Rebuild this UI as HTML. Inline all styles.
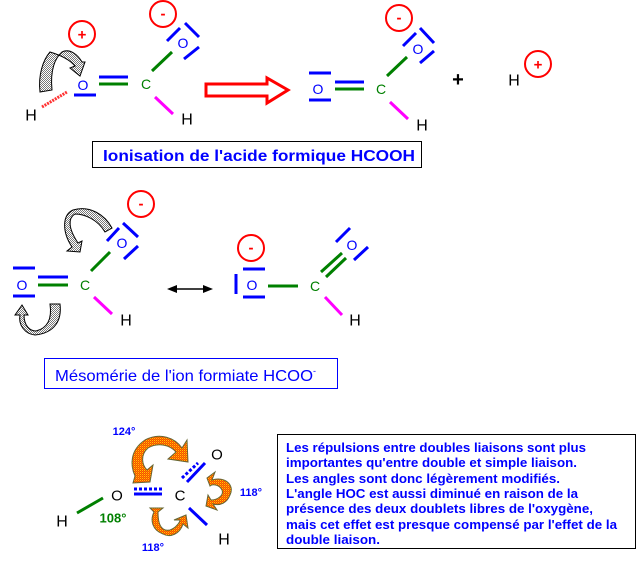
<!DOCTYPE html>
<html><head><meta charset="utf-8"><style>
html,body{margin:0;padding:0;background:#fff;}
svg{display:block;}
text{font-family:"Liberation Sans",Arial,sans-serif;}
</style></head><body>
<svg width="637" height="561" viewBox="0 0 637 561" xmlns="http://www.w3.org/2000/svg">
<defs>
<pattern id="gr" width="2" height="2" patternUnits="userSpaceOnUse"><rect width="2" height="2" fill="#fff"/><rect width="1" height="1" fill="#777"/><rect x="1" y="1" width="1" height="1" fill="#777"/></pattern>
<pattern id="or" width="2" height="2" patternUnits="userSpaceOnUse"><rect width="2" height="2" fill="#f40"/><rect width="1" height="1" fill="#fc0"/><rect x="1" y="1" width="1" height="1" fill="#e80"/></pattern>
</defs>
<g stroke-width="3" fill="none">
<circle cx="82" cy="34" r="13" stroke="red" stroke-width="2"/>
<circle cx="163" cy="14" r="13" stroke="red" stroke-width="2"/>
<line x1="74" y1="95" x2="96" y2="95" stroke="blue"/>
<line x1="99" y1="77" x2="128" y2="77" stroke="blue"/>
<line x1="99" y1="84" x2="128" y2="84" stroke="green"/>
<line x1="152" y1="71" x2="172" y2="52" stroke="green"/>
<line x1="167" y1="41" x2="180" y2="28" stroke="blue"/>
<line x1="185" y1="23" x2="199" y2="37" stroke="blue"/>
<line x1="184" y1="59" x2="199" y2="47" stroke="blue"/>
<line x1="155" y1="97" x2="173" y2="114" stroke="#f0f"/>
<line x1="42" y1="107" x2="67" y2="92" stroke="#f33" stroke-dasharray="2 1"/>
<path d="M40 92 L52 90 C50 70 55 58 62 52 C70 48 78 55 82 62 L85 62 L80 76 L70 68 L75 66 C70 60 60 55 50 52 C43 60 38 75 40 92 Z" fill="url(#gr)" stroke="#000" stroke-width="1"/>
<path d="M206 84 L267 84 L267 78 L288 90 L267 103 L267 96 L206 96 Z" stroke="red" stroke-width="3"/>
<circle cx="399" cy="18" r="13" stroke="red" stroke-width="2"/>
<line x1="309" y1="73" x2="331" y2="73" stroke="blue"/>
<line x1="309" y1="100" x2="331" y2="100" stroke="blue"/>
<line x1="335" y1="82" x2="364" y2="82" stroke="blue"/>
<line x1="335" y1="89" x2="364" y2="89" stroke="green"/>
<line x1="387" y1="76" x2="407" y2="57" stroke="green"/>
<line x1="403" y1="46" x2="416" y2="33" stroke="blue"/>
<line x1="420" y1="28" x2="434" y2="43" stroke="blue"/>
<line x1="420" y1="63" x2="434" y2="51" stroke="blue"/>
<line x1="390" y1="102" x2="408" y2="119" stroke="#f0f"/>
<circle cx="538" cy="64" r="13" stroke="red" stroke-width="2"/>
<rect x="92.5" y="141.5" width="329" height="26" stroke="#000" stroke-width="1"/>
<circle cx="141" cy="204" r="13" stroke="red" stroke-width="2"/>
<line x1="107" y1="241" x2="119" y2="228" stroke="blue"/>
<line x1="123" y1="223" x2="138" y2="237" stroke="blue"/>
<line x1="124" y1="259" x2="138" y2="246" stroke="blue"/>
<line x1="91" y1="271" x2="110" y2="252" stroke="green"/>
<line x1="13" y1="268" x2="35" y2="268" stroke="blue"/>
<line x1="13" y1="296" x2="35" y2="296" stroke="blue"/>
<line x1="38" y1="277" x2="68" y2="277" stroke="blue"/>
<line x1="38" y1="285" x2="68" y2="285" stroke="green"/>
<line x1="94" y1="297" x2="112" y2="314" stroke="#f0f"/>
<path d="M73 210 C90 205 105 215 112 228 L105 232 C98 220 85 214 75 214 C68 218 68 228 78 243 L82 241 L80 252 L67 251 L72 247 C62 232 62 215 73 210 Z" fill="url(#gr)" stroke="#000" stroke-width="1"/>
<path d="M50 304 L60 304 C62 320 55 333 35 335 C25 334 18 325 20 315 L15 315 L22 305 L28 315 L24 315 C24 326 30 331 36 331 C48 328 52 318 50 304 Z" fill="url(#gr)" stroke="#000" stroke-width="1"/>
<line x1="172" y1="289" x2="208" y2="289" stroke="#000" stroke-width="1.5"/>
<path d="M167 289 L177 285 L177 293 Z M213 289 L203 285 L203 293 Z" fill="#000" stroke="none"/>
<circle cx="251" cy="248" r="13" stroke="red" stroke-width="2"/>
<line x1="243" y1="269" x2="265" y2="269" stroke="blue"/>
<line x1="243" y1="297" x2="265" y2="297" stroke="blue"/>
<line x1="236" y1="274" x2="236" y2="294" stroke="blue"/>
<line x1="268" y1="286" x2="298" y2="286" stroke="green"/>
<line x1="321" y1="272" x2="342" y2="253" stroke="green"/>
<line x1="326" y1="277" x2="346" y2="258" stroke="green"/>
<line x1="336" y1="242" x2="350" y2="228" stroke="blue"/>
<line x1="354" y1="260" x2="368" y2="247" stroke="blue"/>
<line x1="325" y1="297" x2="342" y2="315" stroke="#f0f"/>
<rect x="44.5" y="358.5" width="293" height="30" stroke="blue" stroke-width="1"/>
<line x1="77" y1="513" x2="103" y2="498" stroke="green"/>
<line x1="134" y1="489" x2="162" y2="489" stroke="blue" stroke-dasharray="3 2"/>
<line x1="134" y1="494" x2="162" y2="494" stroke="blue"/>
<line x1="182" y1="478" x2="198" y2="463" stroke="blue" stroke-dasharray="3 2"/>
<line x1="187" y1="482" x2="205" y2="463" stroke="blue"/>
<line x1="189" y1="508" x2="207" y2="525" stroke="blue"/>
<g fill="url(#or)" stroke="#663" stroke-width="1">
<path d="M135 476 C130 465 130 450 145 440 C160 432 175 438 182 448 L187 440 L188 462 L168 459 L176 452 C170 445 158 442 148 448 C140 455 142 465 147 470 L153 465 L150 482 L133 483 Z"/>
<path d="M207 478 L215 472 L212 480 C225 476 235 485 230 495 C227 503 220 506 213 504 L217 510 L206 506 L208 495 L211 500 C218 500 224 495 222 490 C219 484 212 484 210 486 Z"/>
<path d="M150 508 L163 508 L158 512 C158 522 160 532 170 530 C176 528 180 522 180 520 L174 520 L186 515 L188 528 L183 524 C180 534 170 538 163 534 C152 530 150 520 154 512 Z"/>
</g>
<rect x="277.5" y="434.5" width="358" height="114" stroke="#000" stroke-width="1"/>
</g>
<g font-size="15" text-anchor="middle" dominant-baseline="central">
<text x="82" y="35" fill="red" font-weight="bold">+</text>
<text x="163" y="14" fill="red" font-weight="bold">-</text>
<text x="399" y="18" fill="red" font-weight="bold">-</text>
<text x="538" y="65" fill="red" font-weight="bold">+</text>
<text x="141" y="204" fill="red" font-weight="bold">-</text>
<text x="251" y="248" fill="red" font-weight="bold">-</text>
<g font-size="14" fill="blue">
<text x="83" y="85">O</text><text x="183" y="43">O</text>
<text x="318" y="89">O</text><text x="418" y="49">O</text>
<text x="122" y="243">O</text><text x="22" y="285">O</text>
<text x="252" y="285">O</text><text x="352" y="245">O</text>
</g>
<g font-size="14" fill="green">
<text x="146" y="84">C</text><text x="381" y="89">C</text>
<text x="85" y="285">C</text><text x="315" y="286">C</text>
</g>
<g font-size="16" fill="#000">
<text x="31" y="116">H</text><text x="187" y="120">H</text>
<text x="422" y="126">H</text><text x="514" y="81">H</text>
<text x="126" y="321">H</text><text x="355" y="321">H</text>
<text x="458" y="80" font-size="20" font-weight="bold">+</text>
<text x="117" y="496" font-size="15">O</text>
<text x="180" y="496" font-size="15">C</text>
<text x="217" y="455" font-size="15">O</text>
<text x="62" y="522">H</text><text x="224" y="540">H</text>
</g>
<g font-size="11" font-weight="bold" fill="blue">
<text x="124" y="432">124°</text>
<text x="251" y="493">118°</text>
<text x="153" y="548">118°</text>
</g>
<text x="113" y="518" font-size="13" font-weight="bold" fill="green">108°</text>
</g>
<text x="103" y="161" font-size="16" font-weight="bold" fill="blue" textLength="312" lengthAdjust="spacingAndGlyphs">Ionisation de l'acide formique HCOOH</text>
<text x="55" y="381" font-size="16" fill="blue"><tspan textLength="258" lengthAdjust="spacingAndGlyphs">Mésomérie de l'ion formiate HCOO</tspan><tspan font-size="9" dy="-7">-</tspan></text>
<g font-size="13" font-weight="bold" fill="blue" lengthAdjust="spacingAndGlyphs">
<text x="286" y="452" textLength="300" lengthAdjust="spacingAndGlyphs">Les répulsions entre doubles liaisons sont plus</text>
<text x="286" y="467" textLength="291" lengthAdjust="spacingAndGlyphs">importantes qu'entre double et simple liaison.</text>
<text x="286" y="483" textLength="274" lengthAdjust="spacingAndGlyphs">Les angles sont donc légèrement modifiés.</text>
<text x="286" y="498" textLength="292" lengthAdjust="spacingAndGlyphs">L'angle HOC est aussi diminué en raison de la</text>
<text x="286" y="513" textLength="307" lengthAdjust="spacingAndGlyphs">présence des deux doublets libres de l'oxygène,</text>
<text x="286" y="529" textLength="331" lengthAdjust="spacingAndGlyphs">mais cet effet est presque compensé par l'effet de la</text>
<text x="286" y="544" textLength="94" lengthAdjust="spacingAndGlyphs">double liaison.</text>
</g>
</svg>
</body></html>
